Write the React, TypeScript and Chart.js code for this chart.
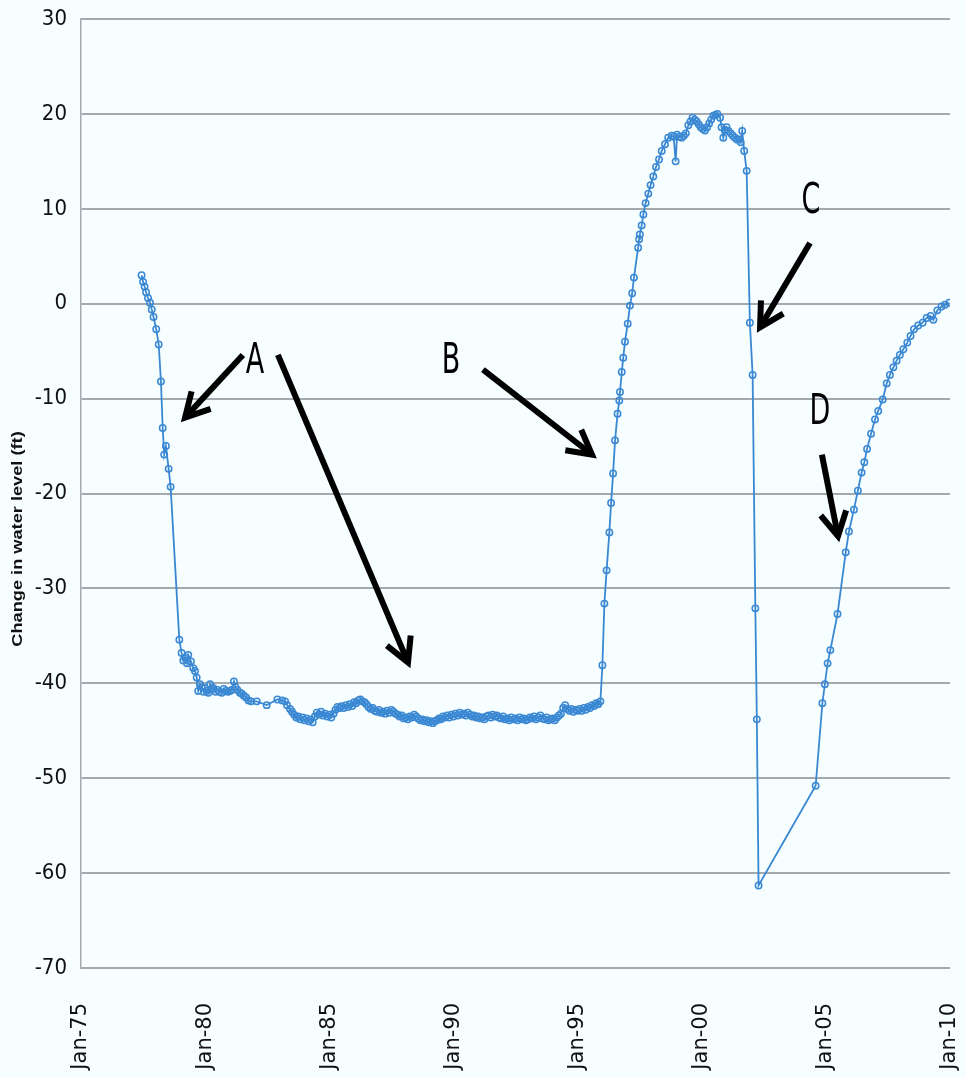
import React, { useEffect, useRef } from "react";
import { Chart, registerables } from "chart.js";

Chart.register(...registerables);

// ---------- DATA (decimal year, change in water level in ft) ----------
const declinePoints: [number, number][] = [
  [1977.44, 3.0], [1977.5, 2.3], [1977.56, 1.8], [1977.62, 1.2], [1977.7, 0.6],
  [1977.78, 0.1], [1977.85, -0.6], [1977.92, -1.4], [1978.03, -2.7], [1978.13, -4.3],
  [1978.22, -8.2], [1978.29, -13.1], [1978.35, -15.9], [1978.42, -15.0], [1978.53, -17.4],
  [1978.61, -19.3], [1978.96, -35.4],
];

const earlyPlateauPoints: [number, number][] = [
  [1979.05, -36.8], [1979.12, -37.6], [1979.19, -37.3], [1979.27, -37.9], [1979.32, -37.0],
  [1979.43, -37.7], [1979.52, -38.4], [1979.59, -38.7], [1979.66, -39.4], [1979.72, -40.8],
  [1979.79, -40.1], [1979.87, -40.4], [1979.94, -40.9], [1979.99, -40.5], [1980.07, -40.8],
  [1980.13, -41.0], [1980.2, -40.1], [1980.27, -40.6], [1980.33, -40.5], [1980.42, -40.9],
  [1980.5, -40.7], [1980.58, -40.9], [1980.67, -41.0], [1980.75, -40.6], [1980.83, -40.8],
  [1980.92, -40.9], [1981.0, -40.8], [1981.07, -40.7], [1981.16, -39.8], [1981.22, -40.4],
  [1981.3, -40.7], [1981.4, -41.0], [1981.48, -41.1], [1981.56, -41.3], [1981.65, -41.5],
  [1981.75, -41.8], [1981.85, -41.9], [1982.08, -41.9], [1982.48, -42.3], [1982.91, -41.7],
  [1983.1, -41.8], [1983.22, -41.9], [1983.3, -42.3],
];

const lowPlateauPoints: [number, number][] = [
  [1983.42, -42.7], [1983.5, -43.0], [1983.58, -43.3], [1983.67, -43.6], [1983.75, -43.5],
  [1983.83, -43.8], [1983.92, -43.6], [1984.0, -43.9], [1984.08, -43.7], [1984.17, -44.0],
  [1984.25, -43.8], [1984.33, -44.1], [1984.42, -43.5], [1984.5, -43.1], [1984.58, -43.3],
  [1984.67, -43.0], [1984.75, -43.4], [1984.83, -43.2], [1984.92, -43.5], [1985.0, -43.3],
  [1985.08, -43.6], [1985.17, -43.2], [1985.25, -42.8], [1985.33, -42.5], [1985.42, -42.6],
  [1985.5, -42.4], [1985.58, -42.6], [1985.67, -42.3], [1985.75, -42.5], [1985.83, -42.2],
  [1985.92, -42.4], [1986.0, -42.0], [1986.08, -42.1], [1986.17, -41.8], [1986.25, -41.7],
  [1986.33, -41.9], [1986.42, -42.0], [1986.5, -42.2], [1986.58, -42.5], [1986.67, -42.7],
  [1986.75, -42.6], [1986.83, -42.9], [1986.92, -43.0], [1987.0, -42.8], [1987.08, -43.1],
  [1987.17, -43.0], [1987.25, -43.2], [1987.33, -42.9], [1987.42, -43.1], [1987.5, -42.8],
  [1987.58, -43.0], [1987.67, -43.2], [1987.75, -43.3], [1987.83, -43.5], [1987.92, -43.4],
  [1988.0, -43.7], [1988.08, -43.6], [1988.17, -43.8], [1988.25, -43.5], [1988.33, -43.6],
  [1988.42, -43.3], [1988.5, -43.5], [1988.58, -43.7], [1988.67, -43.9], [1988.75, -43.8],
  [1988.83, -44.0], [1988.92, -43.9], [1989.0, -44.1], [1989.08, -44.0], [1989.17, -44.2],
  [1989.25, -44.0], [1989.33, -43.9], [1989.42, -43.7], [1989.5, -43.8], [1989.58, -43.5],
  [1989.67, -43.6], [1989.75, -43.4], [1989.83, -43.6], [1989.92, -43.3], [1990.0, -43.5],
  [1990.08, -43.2], [1990.17, -43.4], [1990.25, -43.1], [1990.33, -43.3], [1990.42, -43.2],
  [1990.5, -43.4], [1990.58, -43.1], [1990.67, -43.3], [1990.75, -43.5], [1990.83, -43.4],
  [1990.92, -43.6], [1991.0, -43.5], [1991.08, -43.7], [1991.17, -43.6], [1991.25, -43.8],
  [1991.33, -43.5], [1991.42, -43.4], [1991.5, -43.6], [1991.58, -43.3], [1991.67, -43.5],
  [1991.75, -43.4], [1991.83, -43.6], [1991.92, -43.7], [1992.0, -43.5], [1992.08, -43.8],
  [1992.17, -43.7], [1992.25, -43.9], [1992.33, -43.6], [1992.42, -43.8], [1992.5, -43.7],
  [1992.58, -43.9], [1992.67, -43.6], [1992.75, -43.8], [1992.83, -43.7], [1992.92, -43.9],
  [1993.0, -43.8], [1993.08, -43.6], [1993.17, -43.7], [1993.25, -43.5], [1993.33, -43.8],
  [1993.42, -43.6], [1993.5, -43.4], [1993.58, -43.7], [1993.67, -43.8], [1993.75, -43.6],
  [1993.83, -43.9], [1993.92, -43.8], [1994.0, -43.7], [1994.08, -43.9], [1994.17, -43.6],
  [1994.25, -43.4], [1994.33, -43.2], [1994.42, -42.6], [1994.5, -42.3], [1994.58, -42.7],
  [1994.67, -42.9], [1994.75, -42.7], [1994.83, -43.0], [1994.92, -42.8], [1995.0, -42.9],
  [1995.08, -42.7], [1995.17, -42.9], [1995.25, -42.6], [1995.33, -42.8], [1995.42, -42.5],
  [1995.5, -42.6], [1995.58, -42.3], [1995.67, -42.4], [1995.75, -42.1], [1995.83, -42.2],
  [1995.92, -41.9],
];

const recoveryPoints: [number, number][] = [
  [1996.0, -38.1], [1996.08, -31.6], [1996.17, -28.1], [1996.28, -24.1], [1996.35, -21.0],
  [1996.43, -17.9], [1996.51, -14.4], [1996.61, -11.6], [1996.68, -10.2], [1996.71, -9.3],
  [1996.78, -7.2], [1996.84, -5.7], [1996.91, -4.0], [1997.02, -2.1], [1997.11, -0.2],
  [1997.2, 1.1], [1997.27, 2.75], [1997.44, 5.9], [1997.48, 6.8], [1997.51, 7.3],
  [1997.58, 8.25], [1997.65, 9.4], [1997.74, 10.6], [1997.85, 11.6], [1997.94, 12.5],
  [1998.05, 13.4], [1998.16, 14.4], [1998.28, 15.2], [1998.39, 16.1], [1998.52, 16.8],
  [1998.65, 17.5], [1998.79, 17.7], [1998.87, 17.6], [1998.95, 15.0], [1999.01, 17.8],
  [1999.1, 17.6], [1999.19, 17.5], [1999.28, 17.7], [1999.36, 17.95], [1999.46, 18.8],
  [1999.55, 19.2], [1999.63, 19.6], [1999.72, 19.4], [1999.8, 19.2], [1999.88, 18.9],
  [1999.96, 18.6], [2000.05, 18.4], [2000.13, 18.25], [2000.22, 18.6], [2000.3, 19.0],
  [2000.38, 19.4], [2000.47, 19.8], [2000.55, 19.9], [2000.63, 20.0], [2000.74, 19.6],
  [2000.8, 18.6], [2000.87, 17.5], [2000.93, 18.3], [2001.0, 18.6], [2001.08, 18.2],
  [2001.17, 17.95], [2001.25, 17.7], [2001.34, 17.5], [2001.42, 17.3], [2001.51, 17.3],
  [2001.57, 17.0], [2001.63, 18.2], [2001.71, 16.1], [2001.81, 14.0],
];

const collapsePoints: [number, number][] = [
  [2001.94, -2.0], [2002.05, -7.5], [2002.16, -32.1], [2002.22, -43.8], [2002.29, -61.3],
];

const reboundPoints: [number, number][] = [
  [2004.59, -50.8], [2004.86, -42.1], [2004.96, -40.1], [2005.07, -37.9], [2005.18, -36.5],
  [2005.47, -32.7], [2005.8, -26.2], [2005.93, -24.0], [2006.13, -21.7], [2006.29, -19.7],
  [2006.44, -17.8], [2006.55, -16.7], [2006.66, -15.3], [2006.82, -13.7], [2006.98, -12.2],
  [2007.11, -11.3], [2007.29, -10.1], [2007.45, -8.4], [2007.58, -7.5], [2007.72, -6.7],
  [2007.85, -6.0], [2007.98, -5.4], [2008.12, -4.8], [2008.28, -4.1], [2008.41, -3.4],
  [2008.55, -2.7], [2008.72, -2.3], [2008.9, -2.0], [2009.06, -1.5], [2009.22, -1.3],
  [2009.33, -1.7], [2009.49, -0.7], [2009.66, -0.3], [2009.8, -0.1], [2009.97, 0.1],
];

// Axis settings
const xMin = 1975;
const xMax = 2010;
const xStep = 5;
const yMin = -70;
const yMax = 30;
const yStep = 10;
const yTitle = "Change in water level (ft)";

// Annotation letters (label, year, level)
const letterLabels = ["A", "B", "C", "D"];
const letterYears = [1982.01, 1989.9, 2004.4, 2004.76];
const letterLevels = [-6.1, -6.1, 10.75, -11.5];

// Arrows (start year/level -> end year/level)
const arrowStartYears = [1981.52, 1982.93, 1991.19, 2004.36, 2004.84];
const arrowStartLevels = [-5.4, -5.4, -6.95, 6.4, -15.9];
const arrowEndYears = [1979.19, 1988.17, 1995.58, 2002.35, 2005.49];
const arrowEndLevels = [-12.0, -37.8, -15.9, -2.5, -24.5];

const BG = "#F6FEFF";
const LINE = "#3A88D3";
const GRID = "#A2AAB0";

const allPoints = [
  ...declinePoints,
  ...earlyPlateauPoints,
  ...lowPlateauPoints,
  ...recoveryPoints,
  ...collapsePoints,
  ...reboundPoints,
].map(([x, y]) => ({ x, y }));

const decorPlugin = {
  id: "decor",
  beforeDraw(chart: any) {
    const ctx = chart.ctx;
    ctx.save();
    ctx.fillStyle = BG;
    ctx.fillRect(0, 0, chart.width, chart.height);
    ctx.restore();
  },
  afterDatasetsDraw(chart: any) {
    const ctx = chart.ctx;
    const xs = chart.scales.x;
    const ys = chart.scales.y;
    ctx.save();
    // arrows
    ctx.strokeStyle = "#000";
    ctx.lineWidth = 6;
    ctx.lineCap = "butt";
    ctx.lineJoin = "miter";
    for (let i = 0; i < arrowStartYears.length; i++) {
      const x1 = xs.getPixelForValue(arrowStartYears[i]);
      const y1 = ys.getPixelForValue(arrowStartLevels[i]);
      const x2 = xs.getPixelForValue(arrowEndYears[i]);
      const y2 = ys.getPixelForValue(arrowEndLevels[i]);
      const ang = Math.atan2(y2 - y1, x2 - x1);
      const hl = 27;
      const sp = 0.5;
      ctx.beginPath();
      ctx.moveTo(x1, y1);
      ctx.lineTo(x2 - 3 * Math.cos(ang), y2 - 3 * Math.sin(ang));
      ctx.stroke();
      ctx.beginPath();
      ctx.moveTo(x2 - hl * Math.cos(ang - sp), y2 - hl * Math.sin(ang - sp));
      ctx.lineTo(x2, y2);
      ctx.lineTo(x2 - hl * Math.cos(ang + sp), y2 - hl * Math.sin(ang + sp));
      ctx.stroke();
    }
    // letters
    ctx.fillStyle = "#000";
    ctx.textAlign = "center";
    ctx.textBaseline = "middle";
    ctx.font = "30px 'Liberation Sans Narrow', 'DejaVu Sans Condensed', sans-serif";
    for (let i = 0; i < letterLabels.length; i++) {
      const x = xs.getPixelForValue(letterYears[i]);
      const y = ys.getPixelForValue(letterLevels[i]);
      ctx.save();
      ctx.translate(x, y);
      ctx.scale(1, 1.4);
      ctx.fillText(letterLabels[i], 0, 0);
      ctx.restore();
    }
    // y axis title
    ctx.save();
    ctx.translate(18, chart.height / 2);
    ctx.rotate(-Math.PI / 2);
    ctx.scale(1.3, 1);
    ctx.font = "bold 14px 'Liberation Sans', Arial, sans-serif";
    ctx.fillStyle = "#111";
    ctx.fillText(yTitle, 0, 0);
    ctx.restore();
    ctx.restore();
  },
};

export default function App() {
  const canvasRef = useRef<HTMLCanvasElement | null>(null);

  useEffect(() => {
    document.body.style.margin = "0";
    document.body.style.background = BG;
    const canvas = canvasRef.current;
    if (!canvas) return;
    const chart = new Chart(canvas, {
      type: "line",
      data: {
        datasets: [
          {
            data: allPoints,
            borderColor: LINE,
            borderWidth: 1.8,
            pointRadius: 3.2,
            pointBorderWidth: 1.5,
            pointBorderColor: LINE,
            pointBackgroundColor: "rgba(0,0,0,0)",
            pointStyle: "circle",
            tension: 0,
            fill: false,
          },
        ],
      },
      options: {
        animation: false,
        responsive: false,
        devicePixelRatio: 1,
        layout: { padding: { top: 19, right: 16, left: 0, bottom: 0 } },
        plugins: {
          legend: { display: false },
          tooltip: { enabled: false },
          title: { display: false },
        },
        scales: {
          x: {
            type: "linear",
            min: xMin,
            max: xMax,
            grid: { display: false },
            border: { display: false },
            ticks: {
              stepSize: xStep,
              minRotation: 90,
              maxRotation: 90,
              padding: 27,
              color: "#111",
              font: { family: "'DejaVu Sans', sans-serif", size: 21 },
              callback: (v: any) => "Jan-" + String(Number(v) % 100).padStart(2, "0"),
            },
            afterFit: (s: any) => {
              s.height = 110;
              s.paddingLeft = 0;
              s.paddingRight = 0;
            },
          },
          y: {
            min: yMin,
            max: yMax,
            grid: { color: GRID, lineWidth: 2, drawTicks: false },
            border: { display: true, color: GRID, width: 1.5 },
            ticks: {
              stepSize: yStep,
              padding: 14,
              color: "#111",
              font: { family: "'Liberation Sans Narrow', 'DejaVu Sans Condensed', sans-serif", size: 22 },
            },
            afterFit: (s: any) => {
              s.width = 81;
              s.paddingTop = 0;
              s.paddingBottom = 0;
            },
          },
        },
      },
      plugins: [decorPlugin],
    });
    return () => chart.destroy();
  }, []);

  return (
    <div style={{ position: "absolute", left: 0, top: 0, width: 966, height: 1078 }}>
      <canvas ref={canvasRef} width={966} height={1078} style={{ display: "block" }} />
    </div>
  );
}
